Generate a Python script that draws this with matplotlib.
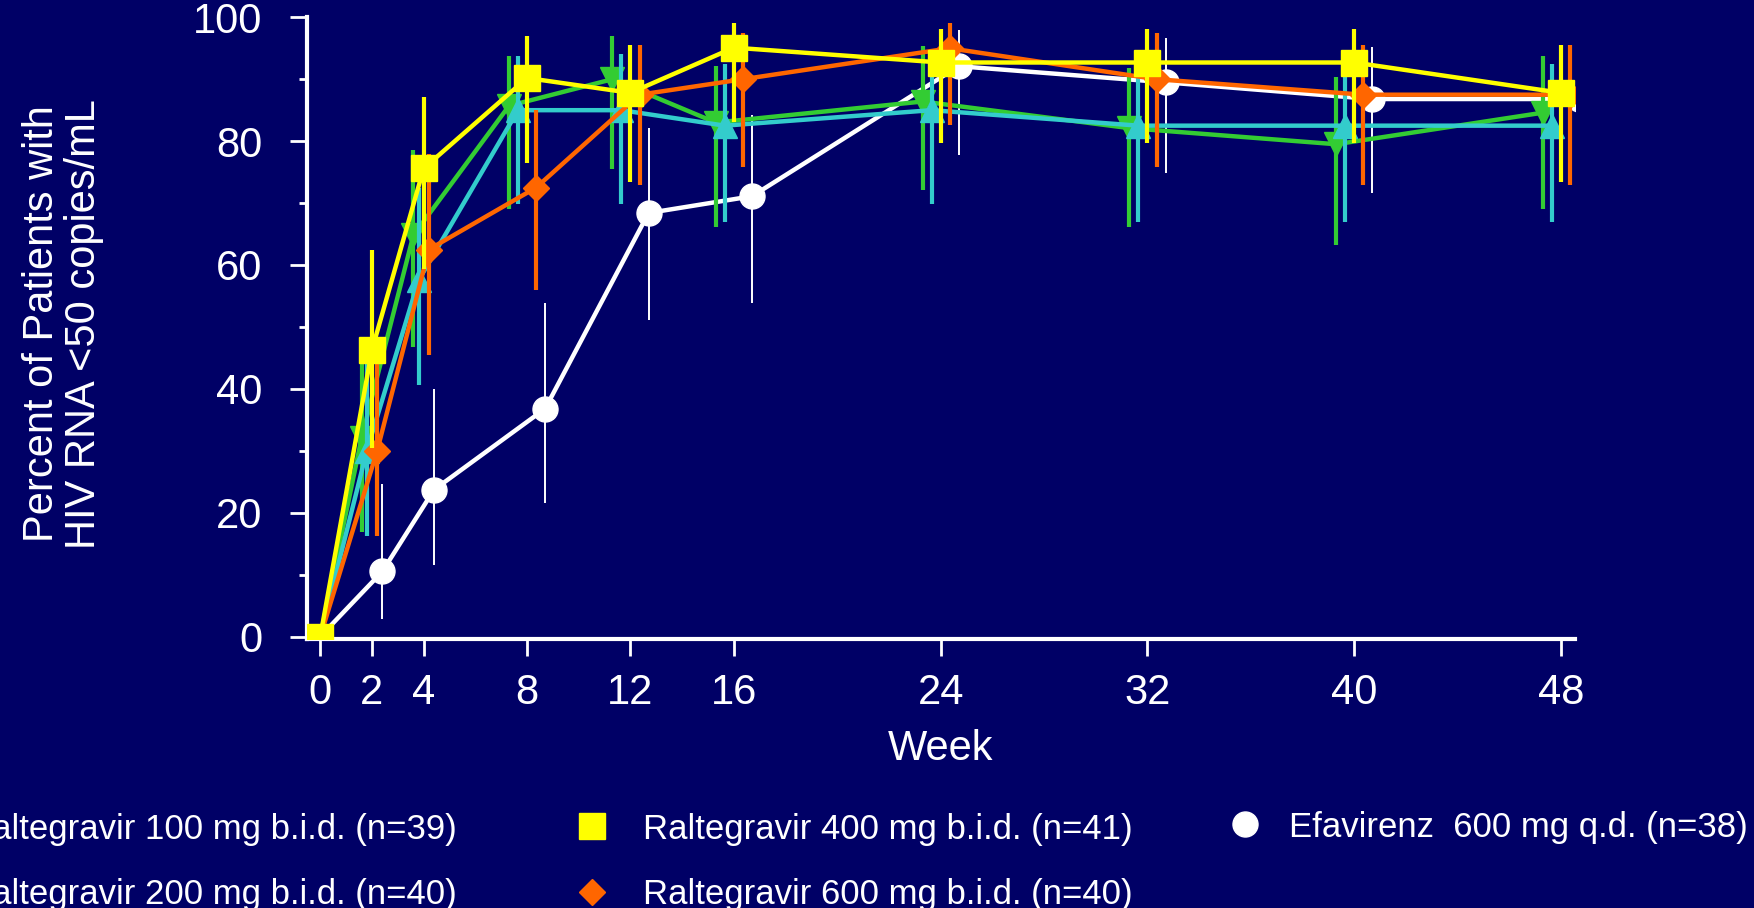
import numpy as np
import matplotlib
matplotlib.use("Agg")
import matplotlib.pyplot as plt
from matplotlib.lines import Line2D

plt.rcParams['font.family'] = ['Liberation Sans', 'DejaVu Sans']

# weeks on study and per-visit horizontal spread of the groups
weeks = [0, 2, 4, 8, 12, 16, 24, 32, 40, 48]
spread = [0, 0.2, 0.2, 0.35, 0.35, 0.35, 0.35, 0.35, 0.35, 0.35]

# percent of patients with HIV RNA <50 copies/mL, with CI bounds
ral100 = [0, 32.1, 64.8, 85.7, 90.0, 83.0, 86.4, 82.1, 79.5, 84.6]
ral100_lo = [0, 16.8, 46.8, 69.1, 75.5, 66.1, 72.1, 66.1, 63.2, 69.1]
ral100_hi = [0, 47.4, 78.5, 93.8, 96.9, 92.2, 95.3, 91.8, 90.4, 93.8]

ral200 = [0, 30.0, 57.5, 85.0, 85.0, 82.5, 85.0, 82.5, 82.5, 82.5]
ral200_lo = [0, 16.3, 40.6, 69.8, 69.8, 66.9, 69.9, 66.9, 66.9, 66.9]
ral200_hi = [0, 45.0, 72.5, 93.8, 94.0, 92.4, 92.4, 92.4, 92.4, 92.4]

ral400 = [0, 46.3, 75.6, 90.2, 87.8, 95.1, 92.7, 92.7, 92.7, 87.8]
ral400_lo = [0, 30.5, 59.4, 76.5, 73.4, 83.1, 79.7, 79.7, 79.7, 73.4]
ral400_hi = [0, 62.4, 87.2, 96.9, 95.6, 99.1, 98.1, 98.1, 98.1, 95.6]

ral600 = [0, 30.0, 62.5, 72.5, 87.5, 90.0, 95.0, 90.0, 87.5, 87.5]
ral600_lo = [0, 16.3, 45.5, 55.9, 72.9, 75.9, 82.6, 75.9, 72.9, 72.9]
ral600_hi = [0, 45.0, 78.0, 85.1, 95.6, 97.4, 99.1, 97.4, 95.5, 95.5]

efv = [0, 10.5, 23.7, 36.8, 68.4, 71.1, 92.1, 89.5, 86.8, 86.8]
efv_lo = [0, 2.9, 11.5, 21.6, 51.1, 53.9, 77.7, 74.9, 71.6, 71.6]
efv_hi = [0, 24.7, 40.0, 53.8, 82.2, 84.2, 97.9, 96.7, 95.2, 95.2]

labels = ['Raltegravir 100 mg b.i.d. (n=39)',
          'Raltegravir 200 mg b.i.d. (n=40)',
          'Raltegravir 400 mg b.i.d. (n=41)',
          'Raltegravir 600 mg b.i.d. (n=40)',
          'Efavirenz  600 mg q.d. (n=38)']

bg = '#000066'
series = [
    # values, lo, hi, colour, marker, size, line w, bar w, slot, z
    (efv, efv_lo, efv_hi, 'white', 'o', 18, 3.2, 1.4, 2, 2),
    (ral100, ral100_lo, ral100_hi, '#33cc33', 'v', 17, 3.2, 3.0, -2, 3),
    (ral200, ral200_lo, ral200_hi, '#33cccc', '^', 17, 3.2, 3.0, -1, 4),
    (ral600, ral600_lo, ral600_hi, '#ff6600', 'D', 13, 3.2, 3.0, 1, 5),
    (ral400, ral400_lo, ral400_hi, '#ffff00', 's', 19, 3.2, 3.0, 0, 6),
]

fig = plt.figure(figsize=(17.54, 9.08), dpi=100, facecolor=bg)
ax = fig.add_axes([0.17503, 0.29592, 0.72292, 0.68503])
ax.set_facecolor(bg)

w = np.array(weeks, dtype=float)
sp = np.array(spread)
for vals, lo, hi, col, mk, ms, lw, elw, slot, z in series:
    v = np.array(vals)
    err = [v - np.array(lo), np.array(hi) - v]
    ax.errorbar(w + slot * sp, v, yerr=err, color=col, marker=mk, ms=ms,
                mec=col, lw=lw, elinewidth=elw, capsize=0, zorder=z)

ax.set_xlim(-0.514, 48.54)
ax.set_ylim(-0.45, 100)
ax.set_xticks(weeks)
ax.set_yticks(range(0, 101, 20))
ax.set_yticks(range(10, 100, 20), minor=True)

for s in ['top', 'right']:
    ax.spines[s].set_visible(False)
for s in ['left', 'bottom']:
    ax.spines[s].set_color('white')
    ax.spines[s].set_linewidth(3.0)

ax.tick_params(axis='both', colors='white', labelcolor='white', labelsize=30,
               width=2.0, length=12)
ax.tick_params(axis='y', pad=20)
ax.tick_params(axis='x', pad=12)
ax.tick_params(axis='y', which='minor', colors='white', width=2.0, length=6)

ax.set_xlabel('Week', color='white', fontsize=30, labelpad=12)
fig.text(63 / 1754, 1 - 324 / 908,
         'Percent of Patients with\nHIV RNA <50 copies/mL',
         rotation=90, ha='center', va='center', color='white',
         fontsize=30, linespacing=1.05)

# legend, laid out as three columns
handles = []
for vals, lo, hi, col, mk, ms, lw, elw, slot, z in series:
    handles.append(Line2D([], [], color=col, marker=mk, ms=ms, ls='none'))
h_efv, h100, h200, h600, h400 = handles

cols = [([h100, h200], labels[0:2], -101, 0.97, 862),
        ([h400, h600], labels[2:4], 575, 0.97, 862),
        ([h_efv], labels[4:5], 1228, 0.77, 827)]
for hs, ls, x0, pad, yc in cols:
    lg = fig.legend(hs, ls, loc='center left',
                    bbox_to_anchor=(x0 / 1754, 1 - yc / 908),
                    frameon=False, fontsize=25, handlelength=1.0,
                    handletextpad=pad, labelspacing=0.95, borderpad=0,
                    borderaxespad=0, labelcolor='white')

fig.savefig('out.png', dpi=100, facecolor=bg)
